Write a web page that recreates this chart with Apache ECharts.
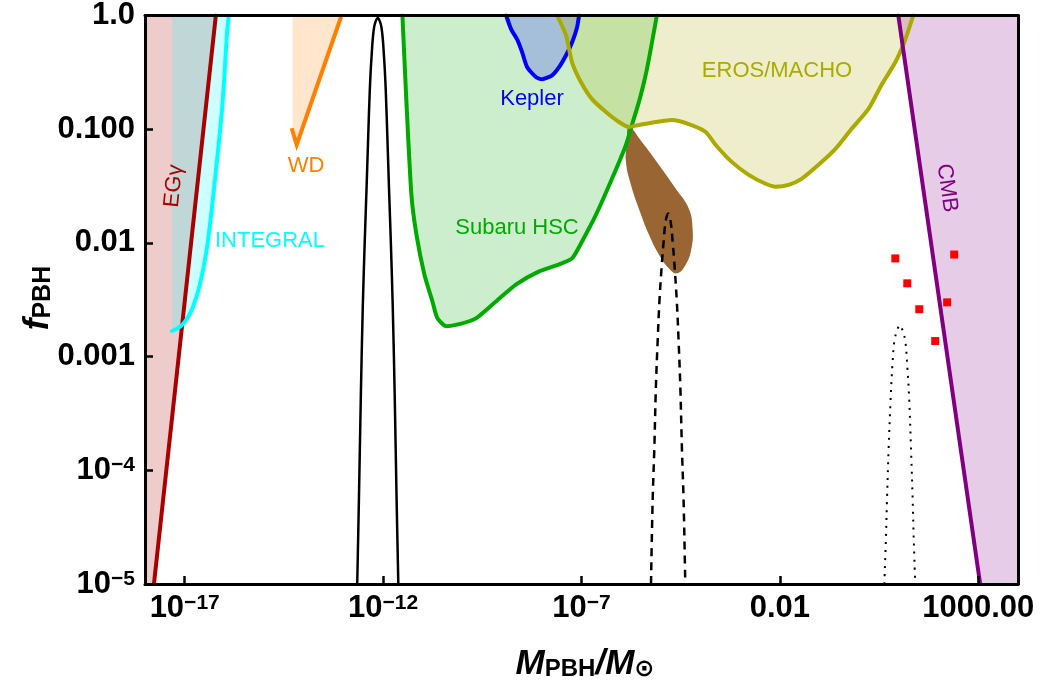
<!DOCTYPE html>
<html><head><meta charset="utf-8">
<script src="https://cdn.jsdelivr.net/npm/echarts@6/dist/echarts.min.js"></script>
<style>html,body{margin:0;padding:0;background:#fff}#c{width:1042px;height:692px}</style>
</head><body><div id="c"></div>
<script>
// ---- tick values / labels ----
const xTicks = [1e-17, 1e-12, 1e-7, 0.01, 1000];
const xTickBase = ['10', '10', '10', '0.01', '1000.00'];
const xTickExp = ['\u221217', '\u221212', '\u22127', '', ''];
const yTicks = [1e-5, 1e-4, 1e-3, 0.01, 0.1, 1];
const yTickBase = ['10', '10', '0.001', '0.01', '0.100', '1.0'];
const yTickExp = ['\u22125', '\u22124', '', '', '', ''];
const xRange = [1e-18, 1e4];
const yRange = [1e-5, 1];

// ---- constraint curves (M_PBH/M_sun, f_PBH) ----
const egammaLine = [[1.68e-18, 1e-5], [6.10e-17, 1]];
const integralLine = [[4.78e-18,1.68e-3],[6.76e-18,1.78e-3],[9.02e-18,1.93e-3],[1.205e-17,2.22e-3],[1.61e-17,2.72e-3],[2.42e-17,4.32e-3],[3.62e-17,8.93e-3],[4.84e-17,2.0e-2],[6.46e-17,5.16e-2],[8.63e-17,0.1415],[1.027e-16,0.3365],[1.153e-16,0.668],[1.294e-16,1]];
const wdLine = [[4.97e-15,0.102],[6.64e-15,0.073],[8.97e-14,1]];
const wdEdge = [[5.26e-15,1],[5.26e-15,0.1]];
const subaruLine = [[3.07e-12,1],[3.87e-12,0.173],[5.17e-12,2.65e-2],[6.91e-12,1.19e-2],[1.097e-11,5.28e-3],[1.744e-11,3.07e-3],[2.33e-11,2.18e-3],[3.93e-11,1.85e-3],[8.34e-11,1.93e-3],[2.23e-10,2.18e-3],[7.10e-10,3.07e-3],[2.26e-9,4.32e-3],[8.55e-9,5.62e-3],[2.72e-8,6.47e-3],[5.78e-8,7.30e-3],[1.031e-7,1.03e-2],[2.32e-7,1.77e-2],[5.85e-7,3.66e-2],[1.318e-6,7.27e-2],[1.862e-6,0.1089],[2.79e-6,0.173],[4.44e-6,0.3365],[7.92e-6,1]];
const keplerLine = [[1.265e-9,1],[1.69e-9,0.754],[2.39e-9,0.616],[3.20e-9,0.474],[4.27e-9,0.351],[7.19e-9,0.286],[1.019e-8,0.275],[1.816e-8,0.298],[2.72e-8,0.351],[4.08e-8,0.447],[5.78e-8,0.580],[7.72e-8,0.785],[8.67e-8,1]];
const erosLine = [[2.43e-8,1],[4.08e-8,0.668],[5.78e-8,0.3877],[9.73e-8,0.259],[1.84e-7,0.1838],[4.14e-7,0.1415],[8.79e-7,0.1156],[1.567e-6,0.1046],[2.79e-6,0.1089],[7.48e-6,0.1156],[1.888e-5,0.1205],[5.06e-5,0.111],[1.352e-4,9.45e-2],[2.415e-4,7.27e-2],[6.10e-4,5.16e-2],[1.633e-3,3.97e-2],[4.37e-3,3.31e-2],[7.79e-3,3.12e-2],[1.652e-2,3.24e-2],[3.51e-2,3.66e-2],[9.38e-2,4.86e-2],[0.251,6.71e-2],[0.634,0.1004],[1.694,0.150],[3.60,0.244],[8.09,0.3877],[14.45,0.616],[22.9,1]];
const cmbLine = [[9.64,1],[1112,1e-5]];
const blob = [[1.567e-6,0.1046],[3.33e-6,7.73e-2],[8.91e-6,4.86e-2],[2.38e-5,2.99e-2],[5.06e-5,2.0e-2],[6.3e-5,1.337e-2],[5.9e-5,8.93e-3],[4.25e-5,6.47e-3],[2.52e-5,5.40e-3],[1.589e-5,5.97e-3],[8.91e-6,7.91e-3],[4.99e-6,1.186e-2],[2.79e-6,2.0e-2],[1.758e-6,3.24e-2],[1.318e-6,5.16e-2],[1.396e-6,7.73e-2]];

// ---- PBH mass functions ----
const peakSolid = [[2.23e-13,1e-5],[2.47e-13,6.0e-5],[2.75e-13,4.52e-4],[3.08e-13,2.77e-3],[3.46e-13,1.07e-2],[3.82e-13,2.94e-2],[4.19e-13,8.04e-2],[4.62e-13,0.220],[5.11e-13,0.429],[5.93e-13,0.785],[7.35e-13,0.95],[9.10e-13,0.785],[1.057e-12,0.429],[1.167e-12,0.220],[1.288e-12,8.04e-2],[1.413e-12,2.94e-2],[1.560e-12,1.07e-2],[1.750e-12,2.77e-3],[1.963e-12,4.52e-4],[2.18e-12,6.0e-5],[2.42e-12,1e-5]];
const peakDashed = [[5.64e-6,1e-5],[6.21e-6,5.45e-5],[6.85e-6,1.58e-4],[7.48e-6,5.31e-4],[8.30e-6,1.37e-3],[9.20e-6,3.07e-3],[1.047e-5,6.21e-3],[1.175e-5,1.03e-2],[1.318e-5,1.54e-2],[1.524e-5,1.81e-2],[1.762e-5,1.54e-2],[1.977e-5,1.03e-2],[2.218e-5,6.21e-3],[2.523e-5,3.07e-3],[2.80e-5,1.37e-3],[3.10e-5,5.31e-4],[3.39e-5,1.58e-4],[3.74e-5,5.45e-5],[4.12e-5,1e-5]];
const peakDotted = [[4.28,1e-5],[4.68,2.43e-5],[4.99,5.44e-5],[5.47,1.49e-4],[6.14,4.09e-4],[6.82,8.27e-4],[7.65,1.37e-3],[8.85,1.68e-3],[10.52,1.89e-3],[12.5,1.68e-3],[14.45,1.37e-3],[16.22,8.27e-4],[18.2,4.09e-4],[20.2,1.49e-4],[22.2,5.44e-5],[23.6,2.43e-5],[25.8,1e-5]];
const redSquares = [[8.1,7.3e-3],[16.2,4.41e-3],[32.5,2.61e-3],[82,1.37e-3],[247,7.9e-3],[164,3.0e-3]];

// ---- derived fill polygons ----
const egammaFill = [[xRange[0], yRange[0]]].concat(egammaLine, [[xRange[0], yRange[1]]]);
const integralFill = integralLine.concat([[integralLine[0][0], yRange[1]]]);
const wdFill = wdEdge.concat(wdLine.slice(1));
const cmbFill = cmbLine.concat([[xRange[1], yRange[0]], [xRange[1], yRange[1]]]);

const FONT = '"Liberation Sans", Arial, "DejaVu Sans", sans-serif';

function nearest(ticks, v) {
  let best = 0, bd = Infinity;
  ticks.forEach((t, i) => { const d = Math.abs(Math.log10(t) - Math.log10(v)); if (d < bd) { bd = d; best = i; } });
  return best;
}
function tickFmt(ticks, base, exp) {
  return v => { const i = nearest(ticks, v); return exp[i] ? '{b|' + base[i] + '}{s|' + exp[i] + '}' : '{b|' + base[i] + '}'; };
}
const tickRich = {
  b: { fontFamily: FONT, fontWeight: 'bold', fontSize: 31, color: '#000' },
  s: { fontFamily: FONT, fontWeight: 'bold', fontSize: 21, color: '#000', verticalAlign: 'top' }
};

function fillSeries(pts, color, z, smooth) {
  return {
    type: 'custom', silent: true, z: z, data: pts,
    renderItem: function (params, api) {
      if (params.dataIndex !== 0) return null;
      return { type: 'polygon', shape: { points: pts.map(p => api.coord(p)), smooth: smooth || 0 }, style: { fill: color } };
    }
  };
}
function lineSeries(pts, color, width, z, extra) {
  return Object.assign({
    type: 'line', data: pts, showSymbol: false, silent: true, z: z,
    lineStyle: { color: color, width: width, cap: 'round', join: 'round' }
  }, extra || {});
}

const chart = echarts.init(document.getElementById('c'));
const axisLineStyle = { color: '#000', width: 3 };
chart.setOption({
  animation: false,
  grid: { left: 145, right: 24, top: 13, bottom: 108 },
  xAxis: [
    { type: 'log', logBase: 10, min: xRange[0], max: xRange[1], z: 10,
      axisLine: { onZero: false, lineStyle: axisLineStyle },
      axisTick: { inside: true, length: 8, customValues: xTicks, lineStyle: { color: '#000', width: 2.5 } },
      axisLabel: { customValues: xTicks, formatter: tickFmt(xTicks, xTickBase, xTickExp), rich: tickRich, margin: 9 },
      splitLine: { show: false }, minorTick: { show: false } },
    { type: 'log', logBase: 10, min: xRange[0], max: xRange[1], position: 'top', z: 10,
      axisLine: { onZero: false, lineStyle: axisLineStyle }, axisTick: { show: false }, axisLabel: { show: false }, splitLine: { show: false } }
  ],
  yAxis: [
    { type: 'log', logBase: 10, min: yRange[0], max: yRange[1], z: 10,
      axisLine: { onZero: false, lineStyle: axisLineStyle },
      axisTick: { inside: true, length: 8, customValues: yTicks, lineStyle: { color: '#000', width: 2.5 } },
      axisLabel: { customValues: yTicks, formatter: tickFmt(yTicks, yTickBase, yTickExp), rich: tickRich, margin: 10 },
      splitLine: { show: false }, minorTick: { show: false } },
    { type: 'log', logBase: 10, min: yRange[0], max: yRange[1], position: 'right', z: 10,
      axisLine: { onZero: false, lineStyle: axisLineStyle }, axisTick: { show: false }, axisLabel: { show: false }, splitLine: { show: false } }
  ],
  series: [
    fillSeries(egammaFill, 'rgba(170,0,0,0.2)', 1),
    fillSeries(integralFill, 'rgba(0,255,255,0.2)', 1),
    fillSeries(wdFill, 'rgba(255,128,0,0.2)', 1),
    fillSeries(subaruLine, 'rgba(0,170,0,0.2)', 1),
    fillSeries(keplerLine, 'rgba(0,0,255,0.2)', 1),
    fillSeries(erosLine, 'rgba(170,170,0,0.2)', 1),
    fillSeries(cmbFill, 'rgba(128,0,128,0.2)', 1),
    fillSeries(blob, '#996633', 2, 0.45),
    lineSeries(egammaLine, '#aa0000', 4, 3),
    lineSeries(integralLine, '#00ffff', 4, 3, { smooth: 0.2 }),
    lineSeries(wdLine, '#ff8000', 4, 3, { lineStyle: { color: '#ff8000', width: 4, cap: 'butt', join: 'miter' } }),
    lineSeries(subaruLine, '#00aa00', 4, 3, { smooth: 0.2 }),
    lineSeries(keplerLine, '#0000ff', 4, 3, { smooth: 0.2 }),
    lineSeries(erosLine, '#aaaa00', 4, 3, { smooth: 0.2 }),
    lineSeries(cmbLine, '#800080', 4, 3),
    lineSeries(peakSolid, '#000', 2.5, 4, { smooth: 0.35 }),
    lineSeries(peakDashed, '#000', 2.5, 4, { smooth: 0.35, lineStyle: { color: '#000', width: 2.5, type: [8, 6], cap: 'butt' } }),
    lineSeries(peakDotted, '#000', 2, 4, { smooth: 0.35, lineStyle: { color: '#000', width: 2, type: [2, 6], cap: 'butt' } }),
    { type: 'scatter', data: redSquares, symbol: 'rect', symbolSize: 8, silent: true, z: 4, itemStyle: { color: '#ff0000', opacity: 1 } }
  ],
  graphic: [
    { type: 'text', x: 174, y: 186, rotation: 84 * Math.PI / 180, z: 20, style: { text: 'EG\u03b3', fill: '#aa0000', font: '22px ' + FONT, align: 'center', verticalAlign: 'middle' } },
    { type: 'text', x: 270, y: 241, z: 20, style: { text: 'INTEGRAL', fill: '#00ffff', font: '22px ' + FONT, align: 'center', verticalAlign: 'middle' } },
    { type: 'text', x: 306, y: 166, z: 20, style: { text: 'WD', fill: '#ff8000', font: '22px ' + FONT, align: 'center', verticalAlign: 'middle' } },
    { type: 'text', x: 532, y: 99, z: 20, style: { text: 'Kepler', fill: '#0000ff', font: '22px ' + FONT, align: 'center', verticalAlign: 'middle' } },
    { type: 'text', x: 517, y: 228, z: 20, style: { text: 'Subaru HSC', fill: '#00aa00', font: '22px ' + FONT, align: 'center', verticalAlign: 'middle' } },
    { type: 'text', x: 777, y: 71, z: 20, style: { text: 'EROS/MACHO', fill: '#aaaa00', font: '22px ' + FONT, align: 'center', verticalAlign: 'middle' } },
    { type: 'text', x: 947, y: 188, rotation: -82 * Math.PI / 180, z: 20, style: { text: 'CMB', fill: '#800080', font: '22px ' + FONT, align: 'center', verticalAlign: 'middle' } },
    { type: 'text', x: 38, y: 298, rotation: Math.PI / 2, z: 20, style: {
        text: '{i|f}{s|PBH}', align: 'center', verticalAlign: 'middle',
        rich: { i: { fontFamily: FONT, fontStyle: 'italic', fontWeight: 'bold', fontSize: 35, fill: '#000' },
                s: { fontFamily: FONT, fontWeight: 'bold', fontSize: 25, fill: '#000', verticalAlign: 'bottom' } } } },
    { type: 'text', x: 585, y: 664, z: 20, style: {
        text: '{i|M}{s|PBH}{n|/}{i|M}{s|\u2299}', align: 'center', verticalAlign: 'middle',
        rich: { i: { fontFamily: FONT, fontStyle: 'italic', fontWeight: 'bold', fontSize: 35, fill: '#000' },
                n: { fontFamily: FONT, fontStyle: 'italic', fontWeight: 'bold', fontSize: 35, fill: '#000' },
                s: { fontFamily: FONT, fontWeight: 'bold', fontSize: 24, fill: '#000', verticalAlign: 'bottom' } } } }
  ]
});
</script></body></html>
